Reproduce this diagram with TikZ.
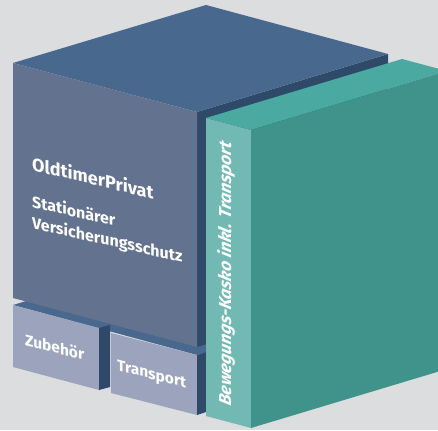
\documentclass[tikz,border=0pt]{standalone}
\usepackage{fontspec}
\setmainfont{Fira Sans}
\usepackage{tikz}
\usetikzlibrary{calc}

\definecolor{bggray}{HTML}{DCDDDF}
\definecolor{cubetop}{HTML}{48688E}
\definecolor{cubefront}{HTML}{63728F}
\definecolor{cubedark}{HTML}{2F4A69}
\definecolor{tealtop}{HTML}{4AA9A1}
\definecolor{tealside}{HTML}{72B9B3}
\definecolor{tealfront}{HTML}{40938B}
\definecolor{boxfront}{HTML}{9CA3BD}

\tikzset{
    face/.style = {fill=#1, draw=none},
    facetext/.style = {
        text=white,
        anchor=base west,
        inner sep=0pt,
        transform shape
    },
    titlefont/.style = {font=\fontsize{18}{20}\selectfont\bfseries},
    subfont/.style = {font=\fontsize{16}{18}\selectfont\bfseries},
    boxfont/.style = {font=\fontsize{15.5}{17}\selectfont\bfseries}
}

\begin{document}
\begin{tikzpicture}[x=1pt, y=-1pt]
    \useasboundingbox (0,0) rectangle (438,430);
    \fill[bggray] (0,0) rectangle (438,430);
    \clip (0,0) rectangle (438,430);

    % main block
    \coordinate (A) at (13,63);
    \coordinate (B) at (197,112);
    \coordinate (C) at (206,5);
    \coordinate (D) at (388,54);
    \coordinate (E) at (13,298);
    \coordinate (F) at (197,347);
    \coordinate (Dl) at (388,289);

    % teal slab
    \coordinate (G) at (206,118);
    \coordinate (H) at (251,130);
    \coordinate (I) at (402,59);
    \coordinate (J) at (447,71);
    \coordinate (L) at (206,416);
    \coordinate (K) at (251,428);
    \coordinate (Jl) at (447,369);

    % small boxes
    \coordinate (z1) at (13,305);
    \coordinate (z2) at (99,328);
    \coordinate (z3) at (99,390);
    \coordinate (z4) at (13,367);
    \coordinate (z5) at (110,325);
    \coordinate (z6) at (110,387);
    \coordinate (t1) at (111,333);
    \coordinate (t2) at (197,355);
    \coordinate (t3) at (197,415);
    \coordinate (t4) at (111,393);
    \coordinate (t5) at (206,352);
    \coordinate (t6) at (206,412);

    % shelf under the block
    \fill[face=cubetop] (z1) -- (t2) -- (237,343) -- (53,293) -- cycle;

    \fill[face=boxfront] (z1) -- (z2) -- (z3) -- (z4) -- cycle;
    \fill[face=cubedark] (z2) -- (z5) -- (z6) -- (z3) -- cycle;
    \fill[face=boxfront] (t1) -- (t2) -- (t3) -- (t4) -- cycle;
    \fill[face=cubedark] (t2) -- (t5) -- (t6) -- (t3) -- cycle;

    \fill[face=cubedark] (B) -- (D) -- (Dl) -- (F) -- cycle;
    \fill[face=cubetop] (A) -- (C) -- (D) -- (B) -- cycle;
    \fill[face=cubefront] (A) -- (B) -- (F) -- (E) -- cycle;

    \fill[face=tealtop] (G) -- (I) -- (J) -- (H) -- cycle;
    \fill[face=tealside] (G) -- (H) -- (K) -- (L) -- cycle;
    \fill[face=tealfront] (H) -- (J) -- (Jl) -- (K) -- cycle;

    % labels
    \begin{scope}[shift={(32,170)}, yslant=-0.24]
        \node[facetext, titlefont] (title) at (0,0) {OldtimerPrivat};
    \end{scope}
    \begin{scope}[shift={(32,207)}, yslant=-0.23]
        \node[facetext, subfont] (sub1) at (0,0) {Stationärer};
    \end{scope}
    \begin{scope}[shift={(32,228)}, yslant=-0.23]
        \node[facetext, subfont] (sub2) at (0,0) {Versicherungsschutz};
    \end{scope}
    \begin{scope}[shift={(25,345)}, yslant=-0.26]
        \node[facetext, boxfont] (zubehoer) at (0,0) {Zubehör};
    \end{scope}
    \begin{scope}[shift={(117,370)}, yslant=-0.26]
        \node[facetext, boxfont] (transport) at (0,0) {Transport};
    \end{scope}
    \begin{scope}[shift={(231,275)}, cm={0,1,-1,0.266,(0,0)}]
        \node[text=white, anchor=base, inner sep=0pt, transform shape,
              font=\fontsize{17.3}{19}\selectfont\bfseries\itshape] (kasko) at (0,0)
              {Bewegungs-Kasko inkl. Transport};
    \end{scope}
\end{tikzpicture}
\end{document}
